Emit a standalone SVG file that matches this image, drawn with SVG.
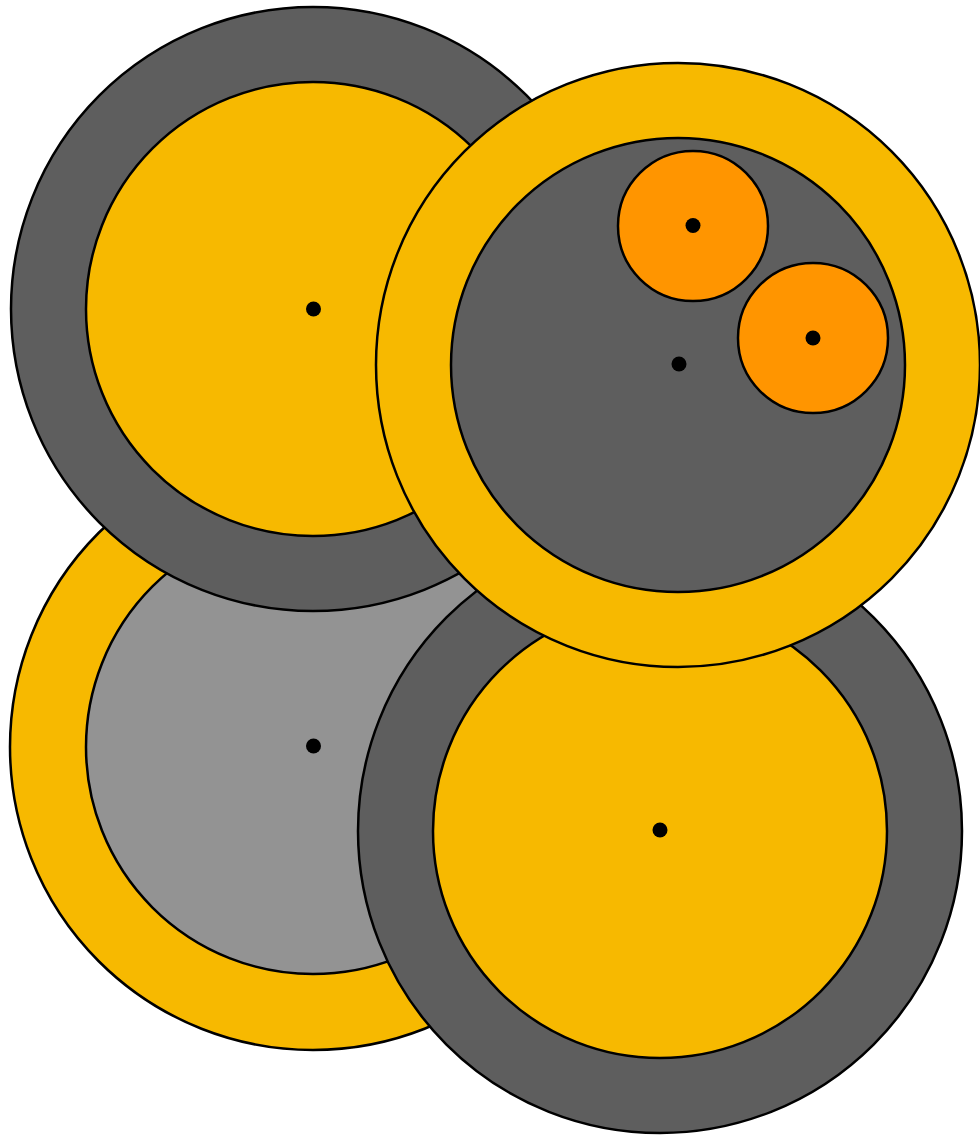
<svg xmlns="http://www.w3.org/2000/svg" width="980" height="1135" viewBox="0 0 980 1135">
<style>
circle,path{stroke:#000;stroke-width:2.5}
.d{fill:#5e5e5e}.y{fill:#f7b900}.g{fill:#939393}.o{fill:#ff9500}
.c{fill:#000;stroke:none}
</style>
<rect width="980" height="1135" fill="#fff"/>
<g id="bottom-left">
<circle class="y" cx="313" cy="747" r="303"/>
<circle class="g" cx="313" cy="747" r="227"/>
<circle class="c" cx="313.5" cy="746" r="7.5"/>
</g>
<g id="top-left">
<circle class="d" cx="313" cy="309" r="302"/>
<circle class="y" cx="313" cy="309" r="227"/>
<circle class="c" cx="313.5" cy="309" r="7.5"/>
</g>
<g id="bottom-right">
<circle class="d" cx="660" cy="831" r="302"/>
<circle class="y" cx="660" cy="831" r="227"/>
<circle class="c" cx="660" cy="830" r="7.5"/>
</g>
<g id="top-right">
<circle class="y" cx="678" cy="365" r="302"/>
<circle class="d" cx="678" cy="365" r="227"/>
<circle class="c" cx="679" cy="364" r="7.5"/>
</g>
<g id="small-1">
<path class="o" d="M618 226A75 75 0 1 0 768 226A75 75 0 1 0 618 226Z"/>
<circle class="c" cx="693" cy="225.5" r="7.5"/>
</g>
<g id="small-2">
<path class="o" d="M738 338A75 75 0 1 0 888 338A75 75 0 1 0 738 338Z"/>
<circle class="c" cx="813" cy="338" r="7.5"/>
</g>
<g id="connectors"/>
</svg>
